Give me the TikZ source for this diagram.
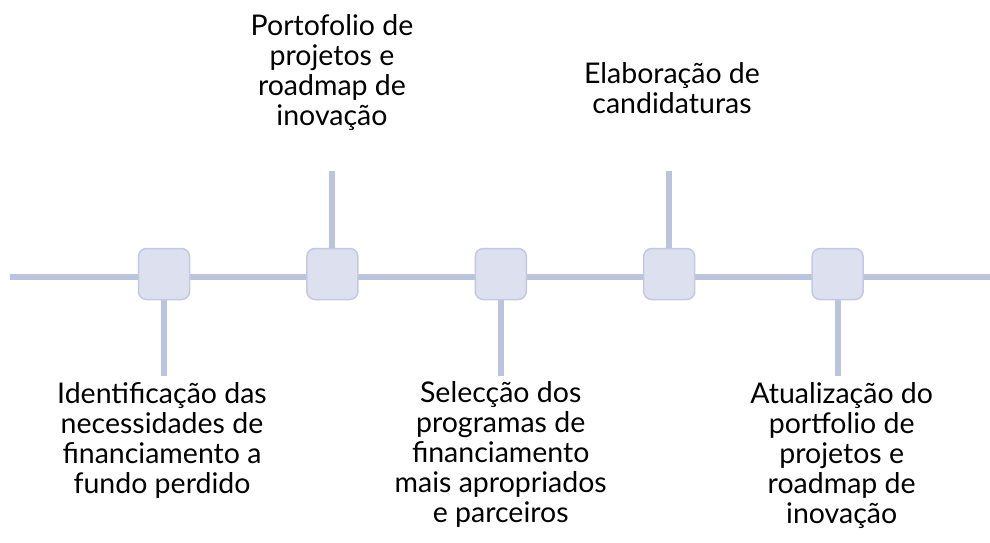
\documentclass[tikz,border=0pt]{standalone}
\usepackage{fontspec}
\setmainfont{Lato}
\usepackage{tikz}
\usetikzlibrary{backgrounds}
\definecolor{TimeLine}{HTML}{BCC3DF}
\definecolor{BoxFill}{HTML}{DDE0EF}
\definecolor{BoxEdge}{HTML}{C3C9E3}

\begin{document}
\begin{tikzpicture}[x=1pt,y=-1pt]
		\tikzstyle{TimeSty}=[draw=TimeLine,line width=6pt]
		\tikzstyle{milestone}=[draw=BoxEdge,fill=BoxFill,line width=1.5pt,
								  rounded corners=8pt,minimum size=51pt,inner sep=0pt]
		\tikzstyle{caption}=[align=center,inner sep=0pt,anchor=base,
								  font=\fontsize{28.5}{30}\selectfont]

\useasboundingbox (0,0) rectangle (990,543);

% milestones on the time line
\foreach \i/\x in {1/164,2/332.4,3/500.8,4/669.2,5/837.6}
{
  \node[milestone] (s\i) at (\x,274) {};
}

\coordinate (tl_start) at (10,276.5);
\coordinate (tl_end) at (990,276.5);
\coordinate (up2) at (s2 |- 0,171);
\coordinate (up4) at (s4 |- 0,171);
\coordinate (down1) at (s1 |- 0,376);
\coordinate (down3) at (s3 |- 0,376);
\coordinate (down5) at (s5 |- 0,376);

\begin{pgfonlayer}{background}
  \draw[TimeSty] (tl_start) -- (tl_end);
  \foreach \i in {2,4}
    \draw[TimeSty] (s\i.center) -- (up\i);
  \foreach \i in {1,3,5}
    \draw[TimeSty] (s\i.center) -- (down\i);
\end{pgfonlayer}

% captions, placed by the baseline of their last line
\node[caption] at (162,493) (c1) {Identificação das\\necessidades de\\financiamento a\\fundo perdido};
\node[caption] at (332,125) (c2) {Portofolio de\\projetos e\\roadmap de\\inovação};
\node[caption] at (500.7,522) (c3) {Selecção dos\\programas de\\financiamento\\mais apropriados\\e parceiros};
\node[caption] at (672,113) (c4) {Elaboração de\\candidaturas};
\node[caption] at (841.7,523) (c5) {Atualização do\\portfolio de\\projetos e\\roadmap de\\inovação};

\end{tikzpicture}
\end{document}
